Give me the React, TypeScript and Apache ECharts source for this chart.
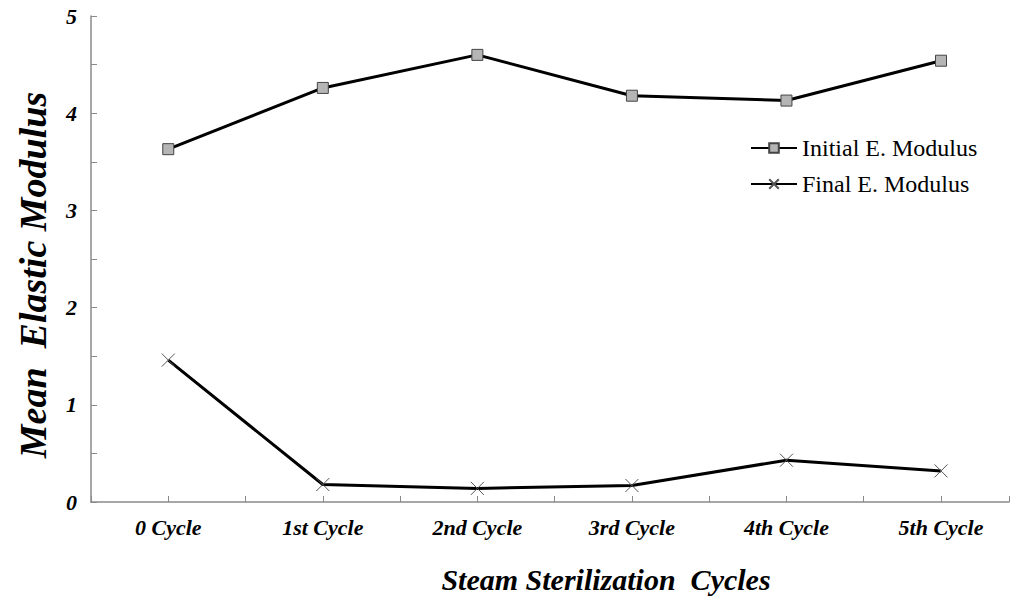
import React, { useEffect, useRef } from "react";
import * as echarts from "echarts";

const categories = ["0 Cycle", "1st Cycle", "2nd Cycle", "3rd Cycle", "4th Cycle", "5th Cycle"];
const initialModulus = [3.63, 4.26, 4.6, 4.18, 4.13, 4.54];
const finalModulus = [1.46, 0.18, 0.14, 0.17, 0.43, 0.32];
const yTicks = [0, 1, 2, 3, 4, 5];

const SERIF = "Liberation Serif";

export default function App() {
  const ref = useRef<HTMLDivElement>(null);
  useEffect(() => {
    if (!ref.current) return;
    const chart = echarts.init(ref.current, null, { renderer: "svg" });
    chart.setOption({
      animation: false,
      backgroundColor: "#ffffff",
      grid: { left: 91, right: 0, top: 16, height: 492, containLabel: false },
      legend: {
        orient: "vertical",
        left: 745,
        top: 131,
        itemWidth: 46,
        itemHeight: 12,
        itemGap: 12,
        textStyle: { fontFamily: SERIF, fontSize: 24, color: "#000" },
        data: ["Initial E. Modulus", "Final E. Modulus"],
      },
      graphic: [
        {
          type: "text",
          x: 33,
          y: 275,
          rotation: Math.PI / 2,
          style: {
            text: "Mean  Elastic Modulus",
            fontFamily: SERIF,
            fontSize: 38,
            fontWeight: "bold",
            fontStyle: "italic",
            fill: "#000",
            align: "center",
            verticalAlign: "middle",
          },
        },
      ],
      xAxis: {
        type: "value",
        min: -0.5,
        max: 5.44,
        interval: 0.5,
        name: "Steam Sterilization  Cycles",
        nameLocation: "middle",
        nameGap: 62,
        nameTextStyle: {
          fontFamily: SERIF,
          fontSize: 30,
          fontWeight: "bold",
          fontStyle: "italic",
          color: "#000",
          padding: [0, 0, 0, 112],
        },
        axisLine: { onZero: false, lineStyle: { color: "#8a8a8a", width: 1.5 } },
        axisTick: { inside: true, length: 6, lineStyle: { color: "#8a8a8a" } },
        splitLine: { show: false },
        axisLabel: {
          margin: 14,
          fontFamily: SERIF,
          fontSize: 22,
          fontWeight: "bold",
          fontStyle: "italic",
          color: "#000",
          showMinLabel: true,
          showMaxLabel: true,
          formatter: (v: number) => (Number.isInteger(v) && categories[v] !== undefined ? categories[v] : ""),
        },
      },
      yAxis: {
        type: "value",
        min: 0,
        max: 5,
        interval: 0.5,
        axisLine: { show: true, onZero: false, lineStyle: { color: "#8a8a8a", width: 1.5 } },
        axisTick: { show: true, inside: true, length: 6, lineStyle: { color: "#8a8a8a" } },
        splitLine: { show: false },
        axisLabel: {
          margin: 14,
          fontFamily: SERIF,
          fontSize: 22,
          fontWeight: "bold",
          fontStyle: "italic",
          color: "#000",
          formatter: (v: number) => (yTicks.includes(v) ? String(v) : ""),
        },
      },
      series: [
        {
          name: "Initial E. Modulus",
          type: "line",
          data: initialModulus.map((v, i) => [i, v]),
          symbol: "rect",
          symbolSize: 11,
          lineStyle: { color: "#000", width: 3 },
          itemStyle: { color: "#b5b5b5", borderColor: "#444", borderWidth: 1 },
          z: 3,
        },
        {
          name: "Final E. Modulus",
          type: "line",
          data: finalModulus.map((v, i) => [i, v]),
          symbol: "path://M0,0L10,10M10,0L0,10",
          symbolSize: 13,
          lineStyle: { color: "#000", width: 3 },
          itemStyle: { color: "rgba(0,0,0,0)", borderColor: "#555", borderWidth: 1 },
          z: 3,
        },
      ],
    });
    return () => chart.dispose();
  }, []);
  return (
    <div
      ref={ref}
      style={{ position: "fixed", left: 0, top: 0, width: 1012, height: 599, background: "#fff" }}
    />
  );
}
